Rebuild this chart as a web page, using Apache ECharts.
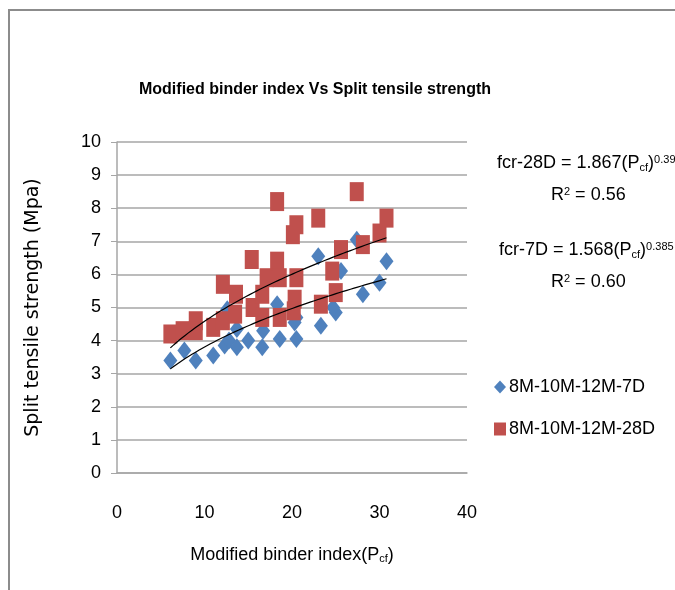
<!DOCTYPE html>
<html>
<head>
<meta charset="utf-8">
<script src="https://cdn.jsdelivr.net/npm/echarts@6/dist/echarts.min.js"></script>
<style>html,body{margin:0;padding:0;background:#fff}#c{width:675px;height:590px}</style>
</head>
<body>
<div id="c"></div>
<script>
// ---- data ----
var seriesNames = ['8M-10M-12M-7D', '8M-10M-12M-28D'];
var data7D = [
  [6.1,3.4],[7.7,3.7],[9.0,3.4],[11.0,3.55],[12.3,3.85],[12.8,4.0],[13.7,3.8],[13.7,4.35],
  [15.0,4.0],[16.6,3.8],[16.7,4.3],[12.6,4.95],[18.3,5.1],[18.6,4.05],[20.3,4.55],[20.5,4.05],
  [20.5,4.7],[23.0,6.55],[23.3,4.45],[25.0,4.85],[24.7,5.0],[25.6,6.1],[27.4,7.05],[28.1,5.4],
  [30.0,5.75],[30.8,6.4]
];
var data28D = [
  [6.1,4.2],[7.5,4.3],[9.0,4.6],[9.0,4.3],[11.0,4.4],[12.1,5.7],[12.1,4.6],[13.6,5.4],[13.5,4.8],
  [15.4,6.45],[15.5,5.0],[16.6,5.4],[16.6,4.7],[17.1,5.9],[18.3,8.2],[18.3,6.4],[18.6,5.9],[18.6,4.7],
  [20.1,7.2],[20.5,7.5],[20.5,5.9],[20.3,5.25],[20.2,4.9],[23.0,7.7],[23.3,5.1],[24.6,6.1],[25.0,5.45],
  [25.6,6.75],[27.4,8.5],[28.1,6.9],[30.0,7.25],[30.8,7.7]
];
// power trend lines y = a * x^b (as printed on the chart)
var trend28D = {a: 1.867, b: 0.390};
var trend7D = {a: 1.568, b: 0.385};
var trendRange = [6.1, 30.8];
var xTicks = [0, 10, 20, 30, 40];
var yTicks = [0, 1, 2, 3, 4, 5, 6, 7, 8, 9, 10];

function trendPoints(t) {
  var pts = [];
  var n = 60;
  for (var i = 0; i <= n; i++) {
    var x = trendRange[0] + (trendRange[1] - trendRange[0]) * i / n;
    pts.push([x, t.a * Math.pow(x, t.b)]);
  }
  return pts;
}

var FONT = '"Liberation Sans Narrow", "Liberation Sans", sans-serif';
var chart = echarts.init(document.getElementById('c'), null, {renderer: 'canvas'});
var eqRich = {
  n: {fontSize: 18, fontFamily: FONT, color: '#000'},
  sub: {fontSize: 11, fontFamily: FONT, color: '#000', verticalAlign: 'bottom', padding: [6, 0, 0, 0]},
  sup: {fontSize: 11, fontFamily: FONT, color: '#000', verticalAlign: 'top', padding: [0, 0, 8, 0]}
};
chart.setOption({
  animation: false,
  backgroundColor: '#fff',
  title: {
    text: 'Modified binder index Vs Split tensile strength',
    left: 310, top: 77, textAlign: 'center',
    textStyle: {fontFamily: FONT, fontWeight: 'bold', fontSize: 16, color: '#000'}
  },
  grid: {left: 117, top: 142, right: 208, bottom: 117, containLabel: false},
  xAxis: {
    type: 'value', min: xTicks[0], max: xTicks[xTicks.length - 1], interval: 10,
    axisLine: {show: true, lineStyle: {color: '#a6a6a6', width: 1.5}},
    axisTick: {show: false},
    splitLine: {show: false},
    axisLabel: {fontFamily: FONT, fontSize: 18, color: '#000', margin: 31},
    name: '{a|Modified binder index(P}{s|cf}{a|)}',
    nameLocation: 'middle', nameGap: 73,
    nameTextStyle: {
      rich: {
        a: {fontFamily: FONT, fontSize: 18, color: '#000'},
        s: {fontFamily: FONT, fontSize: 11, color: '#000', verticalAlign: 'bottom', padding: [6, 0, 0, 0]}
      }
    }
  },
  yAxis: {
    type: 'value', min: yTicks[0], max: yTicks[yTicks.length - 1], interval: 1,
    axisLine: {show: true, lineStyle: {color: '#a6a6a6', width: 1.5}},
    axisTick: {show: true, length: 6, lineStyle: {color: '#a6a6a6'}},
    splitLine: {show: true, lineStyle: {color: '#a6a6a6', width: 1.5}},
    axisLabel: {fontFamily: FONT, fontSize: 18, color: '#000', margin: 16},
    name: 'Split tensile strength (Mpa)',
    nameLocation: 'middle', nameGap: 74, nameRotate: 90,
    nameTextStyle: {fontFamily: '"DejaVu Sans", sans-serif', fontSize: 19, color: '#000'}
  },
  legend: {
    orient: 'vertical', left: 489, top: 373, itemGap: 24,
    itemWidth: 12, itemHeight: 13,
    data: [
      {name: seriesNames[0], icon: 'diamond'},
      {name: seriesNames[1], icon: 'rect'}
    ],
    textStyle: {fontFamily: FONT, fontSize: 18, color: '#000', padding: [0, 0, 0, -2]}
  },
  series: [
    {
      name: seriesNames[0], type: 'scatter', data: data7D,
      symbol: 'diamond', symbolSize: [14, 18],
      itemStyle: {color: '#4f81bd', opacity: 1}, z: 3
    },
    {
      name: seriesNames[1], type: 'scatter', data: data28D,
      symbol: 'rect', symbolSize: [14, 19],
      itemStyle: {color: '#c0504d', opacity: 1}, z: 4
    },
    {
      name: 'trend7D', type: 'line', data: trendPoints(trend7D), showSymbol: false,
      lineStyle: {color: '#000', width: 1.2}, z: 5, silent: true
    },
    {
      name: 'trend28D', type: 'line', data: trendPoints(trend28D), showSymbol: false,
      lineStyle: {color: '#000', width: 1.2}, z: 5, silent: true
    }
  ],
  graphic: [
    {type: 'rect', shape: {x: 9, y: 10, width: 720, height: 640}, style: {fill: 'none', stroke: '#8c8c8c', lineWidth: 2}, silent: true},
    {type: 'text', left: 497, top: 154, style: {text: '{n|fcr-28D = 1.867(P}{sub|cf}{n|)}{sup|0.390}', rich: eqRich}},
    {type: 'text', left: 551, top: 186, style: {text: '{n|R}{sup|2}{n| = 0.56}', rich: eqRich}},
    {type: 'text', left: 499, top: 241, style: {text: '{n|fcr-7D = 1.568(P}{sub|cf}{n|)}{sup|0.385}', rich: eqRich}},
    {type: 'text', left: 551, top: 273, style: {text: '{n|R}{sup|2}{n| = 0.60}', rich: eqRich}}
  ]
});
</script>
</body>
</html>
